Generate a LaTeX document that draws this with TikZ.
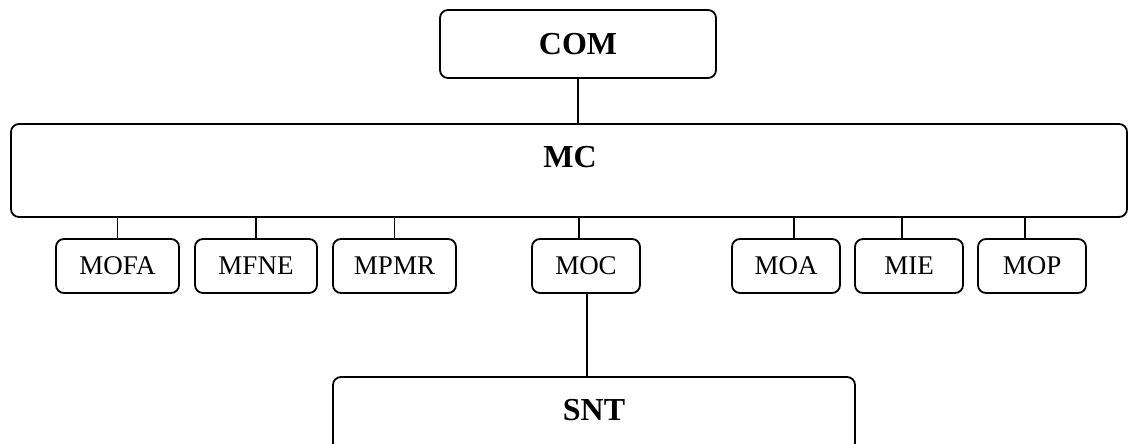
\documentclass[tikz,border=0pt]{standalone}
\usepackage{fontspec}
\setmainfont{Liberation Serif}
\begin{document}
\begin{tikzpicture}[x=1pt,y=-1pt,
  box/.style={draw=black,line width=1.8pt,rounded corners=8pt,inner sep=0pt,outer sep=0pt},
  bigtext/.style={font=\fontsize{32}{32}\selectfont\bfseries},
  smalltext/.style={font=\fontsize{27}{27}\selectfont},
  conn/.style={draw=black,line width=1.4pt}]
\useasboundingbox (0,0) rectangle (1129,444);
% top
\node[box,bigtext,minimum width=276pt,minimum height=68pt] (com) at (578,44) {COM};
\node[box,minimum width=1116pt,minimum height=93pt] (mc) at (569,170.5) {};
\node[bigtext,inner sep=0pt] (mclabel) at (570,157) {MC};
% small boxes
\node[box,smalltext,minimum width=123pt,minimum height=54pt] (mofa) at (117.5,266) {MOFA};
\node[box,smalltext,minimum width=122pt,minimum height=54pt] (mfne) at (256,266) {MFNE};
\node[box,smalltext,minimum width=123pt,minimum height=54pt] (mpmr) at (394.5,266) {MPMR};
\node[box,smalltext,minimum width=108pt,minimum height=54pt] (moc) at (586,266) {MOC};
\node[box,smalltext,minimum width=108pt,minimum height=54pt] (moa) at (786,266) {MOA};
\node[box,smalltext,minimum width=108pt,minimum height=54pt] (mie) at (909,266) {MIE};
\node[box,smalltext,minimum width=108pt,minimum height=54pt] (mop) at (1032,266) {MOP};
% bottom
\node[box,minimum width=522pt,minimum height=74pt] (snt) at (594,414) {};
\node[bigtext,inner sep=0pt] (sntlabel) at (594,410) {SNT};
% connectors
\draw[conn] (com.south) -- (com.south |- mc.north);
\draw[conn] (mofa.north) -- (mofa.north |- mc.south);
\draw[conn] (mfne.north) -- (mfne.north |- mc.south);
\draw[conn] (mpmr.north) -- (mpmr.north |- mc.south);
\draw[conn] ([xshift=-7pt]moc.north) -- ([xshift=-7pt]moc.north |- mc.south);
\draw[conn] ([xshift=8pt]moa.north) -- ([xshift=8pt]moa.north |- mc.south);
\draw[conn] ([xshift=-7pt]mie.north) -- ([xshift=-7pt]mie.north |- mc.south);
\draw[conn] ([xshift=-7pt]mop.north) -- ([xshift=-7pt]mop.north |- mc.south);
\draw[conn] ([xshift=1pt]moc.south) -- ([xshift=1pt]moc.south |- snt.north);
\end{tikzpicture}
\end{document}
